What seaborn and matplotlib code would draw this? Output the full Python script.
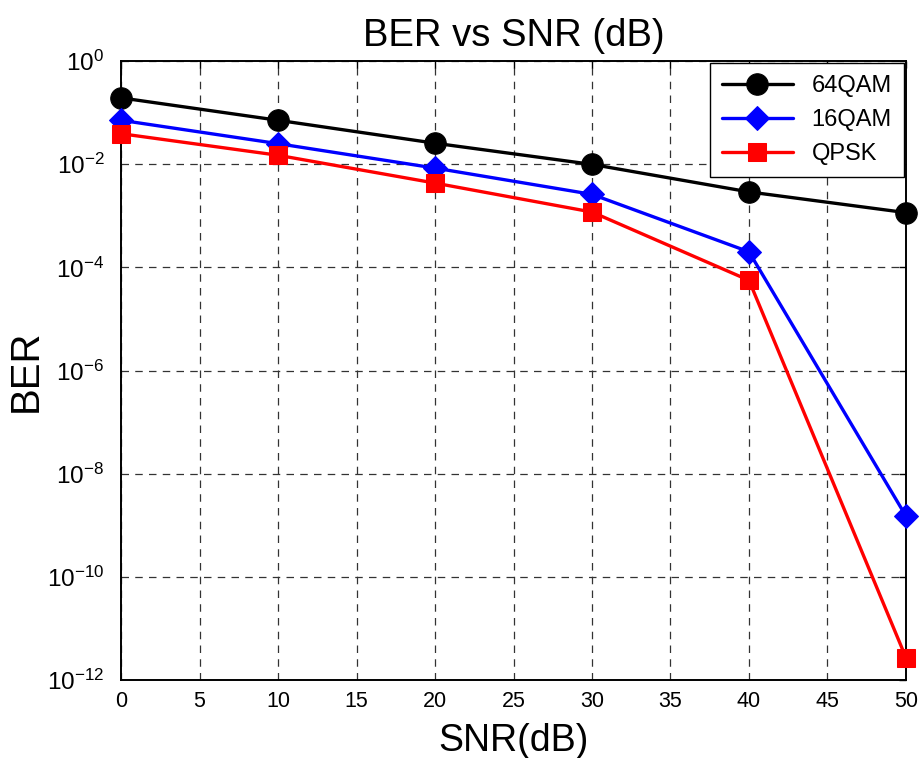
import numpy as np
import pandas as pd
import matplotlib
matplotlib.use("Agg")
import matplotlib.pyplot as plt
import seaborn as sns
from matplotlib.ticker import FixedLocator

snr_db = [0, 10, 20, 30, 40, 50]
ber_64qam = [0.193, 0.071, 0.0255, 0.0099, 0.0029, 0.00115]
ber_16qam = [0.071, 0.025, 0.0084, 0.0026, 2.0e-4, 1.5e-9]
ber_qpsk = [0.039, 0.0149, 0.0043, 0.00118, 5.6e-5, 2.7e-12]
series_names = ["64QAM", "16QAM", "QPSK"]
x_ticks = [0, 5, 10, 15, 20, 25, 30, 35, 40, 45, 50]
y_exponents = [0, -2, -4, -6, -8, -10, -12]

df = pd.DataFrame({
    "SNR": snr_db * 3,
    "BER": ber_64qam + ber_16qam + ber_qpsk,
    "Modulation": sum([[n] * len(snr_db) for n in series_names], []),
})

sns.set_style("white")
plt.rcParams["font.family"] = ["Liberation Sans", "DejaVu Sans"]
plt.rcParams["mathtext.fontset"] = "custom"
plt.rcParams["mathtext.rm"] = "Liberation Sans"
plt.rcParams["mathtext.it"] = "Liberation Sans"
for key in ["text.color", "axes.labelcolor", "xtick.color", "ytick.color"]:
    plt.rcParams[key] = "black"

fig = plt.figure(figsize=(9.21, 7.58), dpi=100)
ax = fig.add_axes([0.1314, 0.1029, 0.8523, 0.8166])

palette = {"64QAM": "#000000", "16QAM": "#0000ff", "QPSK": "#ff0000"}
markers = {"64QAM": "o", "16QAM": "D", "QPSK": "s"}
sizes = {"64QAM": 15.5, "16QAM": 12, "QPSK": 12.5}

for name in series_names:
    sub = df[df["Modulation"] == name]
    sns.lineplot(data=sub, x="SNR", y="BER", ax=ax, color=palette[name],
                 marker=markers[name], markersize=sizes[name],
                 markeredgecolor=palette[name], linewidth=2.4, label=name,
                 clip_on=False, zorder=3)

ax.set_yscale("log")
ax.set_xlim(0, 50)
ax.set_ylim(1e-12, 1e0)
ax.xaxis.set_major_locator(FixedLocator(x_ticks))
ax.yaxis.set_major_locator(FixedLocator([10.0 ** e for e in y_exponents]))
ax.yaxis.set_minor_locator(FixedLocator([]))
ax.set_yticklabels([r"$10^{%d}$" % e for e in y_exponents])
ax.set_xticklabels([str(t) for t in x_ticks])

ax.grid(True, which="major", color="#333333", linestyle=(0, (6, 5)), linewidth=0.9)
ax.tick_params(axis="both", which="major", direction="in", length=5, width=1,
               color="black", top=True, right=True, pad=8)
ax.tick_params(axis="x", labelsize=15.5)
ax.tick_params(axis="y", labelsize=17.5, pad=12)
for s in ax.spines.values():
    s.set_color("black")
    s.set_linewidth(1.4)

ax.set_title("BER vs SNR (dB)", fontsize=27.5, pad=11)
ax.set_xlabel("SNR(dB)", fontsize=27, labelpad=8)
ax.set_ylabel("BER", fontsize=29, labelpad=2)

leg = ax.legend(loc="upper right", fontsize=17, frameon=True, fancybox=False,
                edgecolor="black", framealpha=1, handlelength=3.0,
                borderaxespad=0.1, labelspacing=0.5, borderpad=0.5)
leg.get_frame().set_linewidth(1.0)

fig.savefig("out.png", dpi=100)
